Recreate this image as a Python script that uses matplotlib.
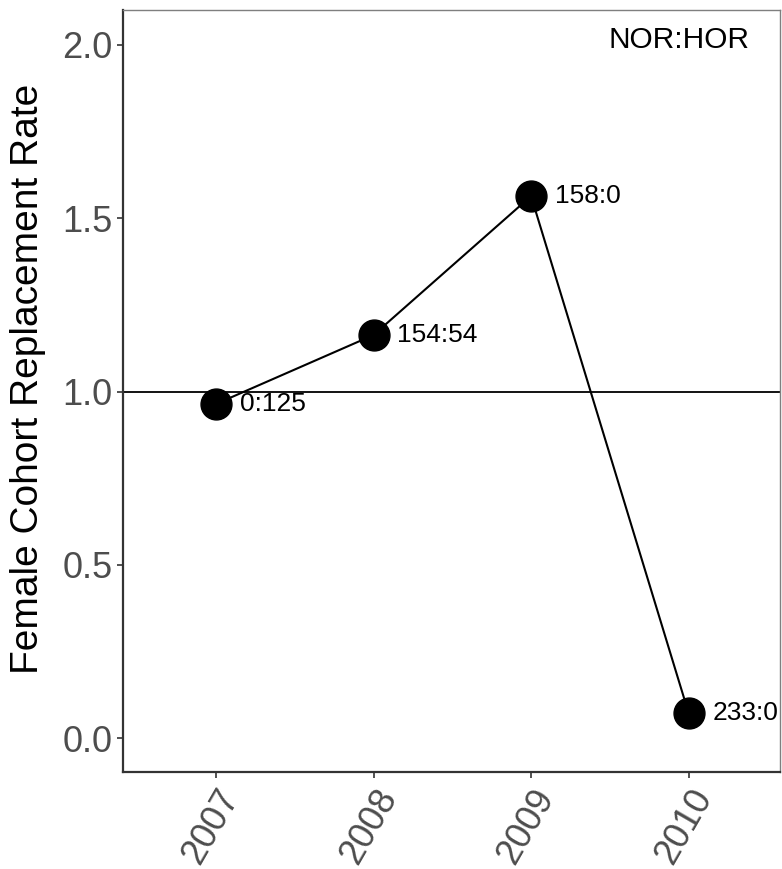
import matplotlib
matplotlib.use('Agg')
import matplotlib.pyplot as plt

plt.rcParams['font.family'] = ['Liberation Sans', 'DejaVu Sans']

years = ['2007', '2008', '2009', '2010']
rate = [0.964, 1.163, 1.564, 0.072]
ratio_labels = ['0:125', '154:54', '158:0', '233:0']

fig = plt.figure(figsize=(7.82, 8.69), dpi=100)
ax = fig.add_axes([123 / 782, 1 - 772 / 869, (780 - 123) / 782, (772 - 10) / 869])

x = list(range(len(years)))
ax.axhline(1.0, color='black', linewidth=1.3, zorder=1)
ax.plot(x, rate, color='black', linewidth=1.5, zorder=2)
ax.scatter(x, rate, s=30 ** 2 * 0.55, color='black', zorder=3)

for xi, yi, lab in zip(x, rate, ratio_labels):
    ax.annotate(lab, xy=(xi, yi), xytext=(17, 0), textcoords='offset points',
                ha='left', va='center', fontsize=19, color='black')

ax.text(2.94, 2.015, 'NOR:HOR', ha='center', va='center', fontsize=21.5, color='black')

ax.set_xlim(-0.59, 3.58)
ax.set_ylim(-0.098, 2.101)
ax.set_xticks(x)
ax.set_xticklabels(years, rotation=60, ha='right', va='top', rotation_mode='anchor')
ax.set_yticks([0.0, 0.5, 1.0, 1.5, 2.0])
ax.set_yticklabels(['0.0', '0.5', '1.0', '1.5', '2.0'])
ax.tick_params(axis='both', colors='#333333', labelcolor='#4d4d4d', labelsize=26, length=4, width=1.2)
ax.set_ylabel('Female Cohort Replacement Rate', fontsize=28, color='black')
ax.yaxis.set_label_coords(-0.117, 0.516)

for side in ['left', 'bottom']:
    ax.spines[side].set_color('#333333')
    ax.spines[side].set_linewidth(1.6)
for side in ['top', 'right']:
    ax.spines[side].set_color('#7f7f7f')
    ax.spines[side].set_linewidth(1.0)

fig.savefig('out.png', dpi=100)
